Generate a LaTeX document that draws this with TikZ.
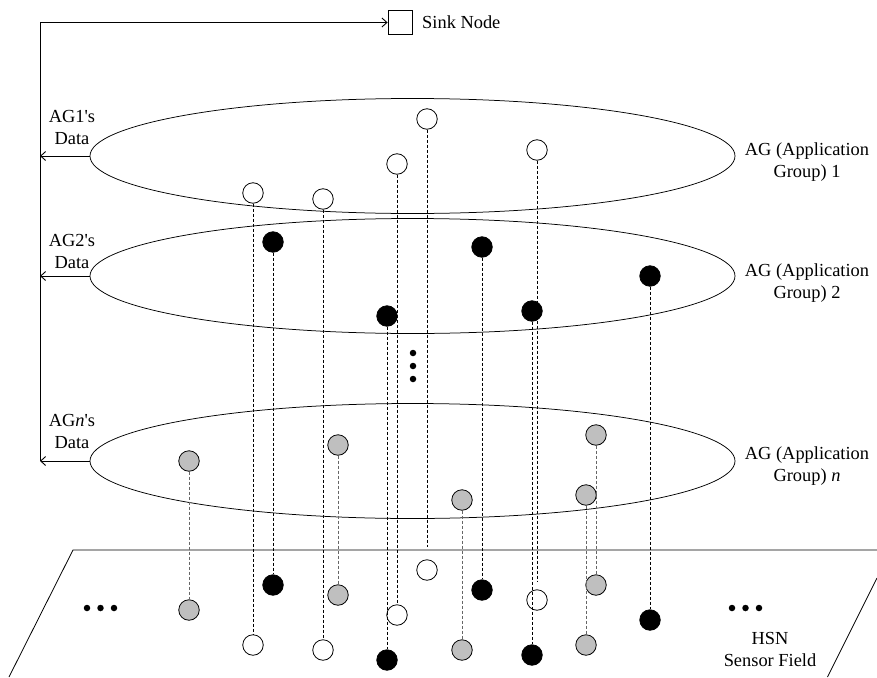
\documentclass[tikz,border=0pt]{standalone}
\usepackage{fontspec}
\setmainfont{Liberation Serif}
\usetikzlibrary{shapes.geometric,arrows.meta}
\newcommand\apos{\XeTeXglyph\XeTeXcharglyph"27\relax}
\begin{document}
\begin{tikzpicture}[x=1pt,y=-1pt,
 every node/.style={font=\fontsize{18.4}{22}\selectfont},
 sn/.style={circle,draw,line width=0.8pt,minimum size=20.5pt,inner sep=0pt},
 wn/.style={sn,fill=white},
 bn/.style={sn,fill=black},
 gn/.style={sn,fill=black!25},
 grp/.style={ellipse,draw,line width=0.75pt,minimum width=645pt,minimum height=115pt,inner sep=0pt},
 lnk/.style={dash pattern=on 3pt off 2pt, line width=0.7pt},
 glnk/.style={lnk, draw=black!60},
 arr/.style={-{Straight Barb[length=5pt,width=9pt]}, line width=0.9pt},
 lbl/.style={align=center,inner sep=0pt},
 dot/.style={circle,fill=black,minimum size=6.5pt,inner sep=0pt},
]
\useasboundingbox (0,0) rectangle (877,677);

% sink
\node[draw,line width=0.8pt,minimum size=24pt,inner sep=0pt] (sink) at (400,22.5) {};
\node[anchor=west,inner sep=0pt] (sinklbl) at (422,22) {Sink Node};

% application groups
\node[grp] (e1) at (412.5,156) {};
\node[grp] (e2) at (412.5,276) {};
\node[grp] (en) at (412.5,461) {};

\coordinate (vbot) at (40,461);
\draw[arr] (vbot) |- (sink.west);
\draw[arr] (e1.west) -- (e1.west -| vbot);
\draw[arr] (e2.west) -- (e2.west -| vbot);
\draw[arr] (en.west) -- (en.west -| vbot);

\node[lbl] (l1) at (72,127) {AG1\apos s\\Data};
\node[lbl] (l2) at (72,251) {AG2\apos s\\Data};
\node[lbl] (ln) at (72,431) {AG\textit{n}\apos s\\Data};

\node[lbl] (r1) at (807,162) {AG (Application\\Group) 1};
\node[lbl] (r2) at (807,283) {AG (Application\\Group) 2};
\node[lbl] (rn) at (807,466) {AG (Application\\Group) \textit{n}};

% sensor field
\draw[line width=0.8pt] (9,677) -- (73,550) -- (877,550);
\draw[line width=0.8pt] (877,578) -- (827.5,677);
\node[lbl] (hsn) at (770,649) {HSN\\Sensor Field};

% vertical dots
\node[dot] (vd1) at (413,353) {};
\node[dot] (vd2) at (413,366) {};
\node[dot] (vd3) at (413,379) {};
% horizontal dots
\node[dot] (hl1) at (87,608) {};
\node[dot] (hl2) at (100.5,608) {};
\node[dot] (hl3) at (114,608) {};
\node[dot] (hr1) at (732,608) {};
\node[dot] (hr2) at (745.5,608) {};
\node[dot] (hr3) at (759,608) {};

% upper nodes
\node[wn] (w1) at (253,193) {};
\node[wn] (w2) at (323,199) {};
\node[wn] (w3) at (397,164) {};
\node[wn] (w4) at (427,119) {};
\node[wn] (w5) at (537,150) {};
\node[bn] (b1) at (273,242) {};
\node[bn] (b2) at (387,316) {};
\node[bn] (b3) at (482,247) {};
\node[bn] (b4) at (650,276) {};
\node[bn] (b5) at (532,311) {};
\node[gn] (g1) at (338,445) {};
\node[gn] (g2) at (189,461) {};
\node[gn] (g3) at (596,435) {};
\node[gn] (g4) at (462,500) {};
\node[gn] (g5) at (586,495) {};

% lower nodes
\node[wn] (w1f) at (253,645) {};
\node[wn] (w2f) at (323,650) {};
\node[wn] (w3f) at (397,615) {};
\node[wn] (w4f) at (427,570) {};
\node[wn] (w5f) at (537,600) {};
\node[bn] (b1f) at (273,585) {};
\node[bn] (b2f) at (387,660) {};
\node[bn] (b3f) at (482,590) {};
\node[bn] (b4f) at (650,620) {};
\node[bn] (b5f) at (532,655) {};
\node[gn] (g1f) at (338,595) {};
\node[gn] (g2f) at (189,610) {};
\node[gn] (g3f) at (596,585) {};
\node[gn] (g4f) at (462,650) {};
\node[gn] (g5f) at (586,645) {};

\coordinate (w4e) at (427,547);
\coordinate (w5e) at (537,582);

% links
\draw[lnk] (w1) -- (w1f);
\draw[lnk] (w2) -- (w2f);
\draw[lnk] (w3) -- (w3f);
\draw[lnk] (w4) -- (w4e);
\draw[lnk] (w5) -- (w5e);
\draw[lnk] (b1) -- (b1f);
\draw[lnk] (b2) -- (b2f);
\draw[lnk] (b3) -- (b3f);
\draw[lnk] (b4) -- (b4f);
\draw[lnk] (b5) -- (b5f);
\draw[glnk] (g1) -- (g1f);
\draw[glnk] (g2) -- (g2f);
\draw[glnk] (g3) -- (g3f);
\draw[glnk] (g4) -- (g4f);
\draw[glnk] (g5) -- (g5f);
\end{tikzpicture}
\end{document}
